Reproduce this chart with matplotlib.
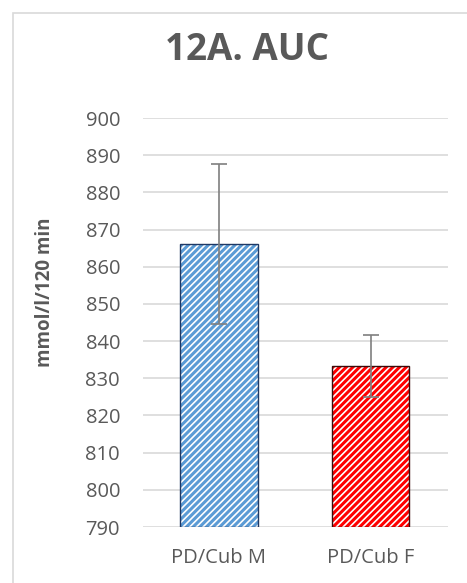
import matplotlib
matplotlib.use("Agg")
import matplotlib.pyplot as plt
from matplotlib.patches import Rectangle

categories = ["PD/Cub M", "PD/Cub F"]
values = [866.0, 833.3]
errors = [21.5, 8.3]
yticks = [790, 800, 810, 820, 830, 840, 850, 860, 870, 880, 890, 900]
title = "12A. AUC"
ylabel = "mmol/l/120 min"

plt.rcParams['font.family'] = ['Open Sans', 'DejaVu Sans']
plt.rcParams['hatch.linewidth'] = 2.2

W, H = 467, 583
dpi = 100
fig = plt.figure(figsize=(W / dpi, H / dpi), dpi=dpi)

# outer chart frame
fig.patches.append(Rectangle((13 / W, -0.1), 1.2, 1 - 13 / H + 0.1, transform=fig.transFigure,
                             fill=False, edgecolor="#D9D9D9", linewidth=1.2))

ax = fig.add_axes([143 / W, 1 - 527 / H, (448 - 143) / W, (527 - 118) / H])
ax.set_xlim(-0.5, 1.507)
ax.set_ylim(790, 900)
ax.set_yticks(yticks)
ax.grid(axis="y", color="#D9D9D9", linewidth=1.2)
ax.set_axisbelow(True)
for s in ax.spines.values():
    s.set_visible(False)
ax.tick_params(axis="both", length=0, colors="#595959", labelsize=14.5)
ax.tick_params(axis="y", pad=16.5)
ax.tick_params(axis="x", pad=15)

colors = ["#5B9BD5", "#FF0000"]
edges = ["#1F3864", "#3A0A0A"]
x = list(range(len(categories)))
heights = [v - 790 for v in values]
for i in x:
    ax.bar(i, heights[i], bottom=790, width=0.507, color="white", edgecolor=colors[i],
           hatch="/////", linewidth=0, zorder=2)
    ax.bar(i, heights[i], bottom=790, width=0.507, fill=False, edgecolor=edges[i],
           linewidth=1.0, zorder=3)
ax.errorbar(x, values, yerr=errors, fmt="none", ecolor="#7F7F7F", elinewidth=1.2,
            capsize=6, capthick=1.2, zorder=4)
ax.set_xticks(x)
ax.set_xticklabels(categories)

fig.text(247 / W, 1 - 50 / H, title, ha="center", va="center", fontsize=26.5,
         fontweight="bold", color="#595959")
fig.text(45 / W, 1 - 292 / H, ylabel, ha="center", va="center", rotation=90,
         fontsize=13.5, fontweight="bold", color="#595959")

fig.savefig("out.png", dpi=dpi)
